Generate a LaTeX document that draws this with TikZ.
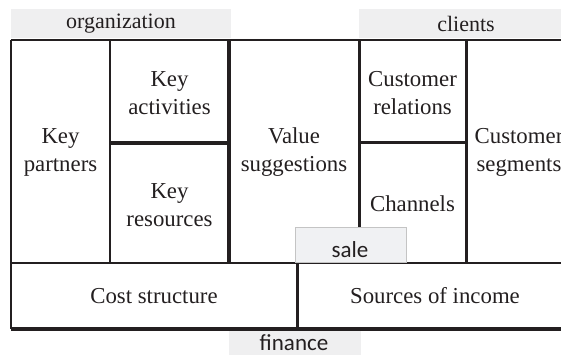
\documentclass[tikz,border=0pt]{standalone}
\usepackage{fontspec}
\setmainfont{Liberation Serif}
\newfontfamily\tagfont{Carlito}
\definecolor{ink}{HTML}{231F20}
\definecolor{bandgrey}{HTML}{EFEFF0}
\definecolor{tagfill}{HTML}{F0F1F3}
\definecolor{tagedge}{HTML}{C4C4C4}
\begin{document}
\begin{tikzpicture}[x=1pt,y=-1pt,
  cell/.style={font=\fontsize{22.8}{28}\selectfont, align=center, inner sep=0pt, text=ink},
  bandtext/.style={font=\fontsize{22}{26}\selectfont, inner sep=0pt, text=ink},
  tagtext/.style={font=\tagfont\fontsize{23}{27}\selectfont, inner sep=0pt, text=ink},
  band/.style={fill=bandgrey, draw=none},
  tagbox/.style={fill=tagfill, draw=tagedge, line width=1pt},
  rule/.style={draw=ink, line width=#1},
]
\clip (0,0) rectangle (561,355);

% section bands above and below the canvas
\fill[band] (11,9) rectangle (231,38);
\fill[band] (359,9) rectangle (575,38);
\fill[band] (229,331) rectangle (361,360);
\node[bandtext] (org) at (121,24) {organization};
\node[bandtext] (cli) at (466,24) {clients};

% canvas grid
\coordinate (tl) at (11,40);
\coordinate (tr) at (575,40);
\coordinate (ml) at (11,263);
\coordinate (mr) at (575,263);
\coordinate (bl) at (11,329);
\coordinate (br) at (575,329);
\draw[rule=2.5pt] (tl) -- (tr);
\draw[rule=1.6pt] (tl) -- (bl);
\draw[rule=2pt] (ml) -- (mr);
\draw[rule=3.2pt] (bl) -- (br);
\draw[rule=1.8pt] (110,40) -- (110,263);
\draw[rule=3.2pt] (229,40) -- (229,263);
\draw[rule=3pt] (359,40) -- (359,263);
\draw[rule=3pt] (466,40) -- (466,263);
\draw[rule=3.2pt] (110,143) -- (229,143);
\draw[rule=3pt] (359,143) -- (466,143);
\draw[rule=3pt] (297,263) -- (297,329);

% block titles
\node[cell] (kp) at (60.5,152) {Key\\partners};
\node[cell] (ka) at (169.5,93) {Key\\activities};
\node[cell] (kr) at (169.5,205) {Key\\resources};
\node[cell] (vs) at (294,152) {Value\\suggestions};
\node[cell] (cr) at (412.5,93) {Customer\\relations};
\node[cell] (ch) at (412.5,204) {Channels};
\node[cell] (cs) at (519,152) {Customer\\segments};
\node[cell] (cost) at (154,296) {Cost structure};
\node[cell] (inc) at (435,296) {Sources of income};

% sale tag over the canvas
\fill[tagbox] (295,227) rectangle (406,262);
\node[tagtext, anchor=base] (sale) at (350,257) {sale};
\node[tagtext, anchor=base] (fin) at (294,350.5) {finance};
\end{tikzpicture}
\end{document}
